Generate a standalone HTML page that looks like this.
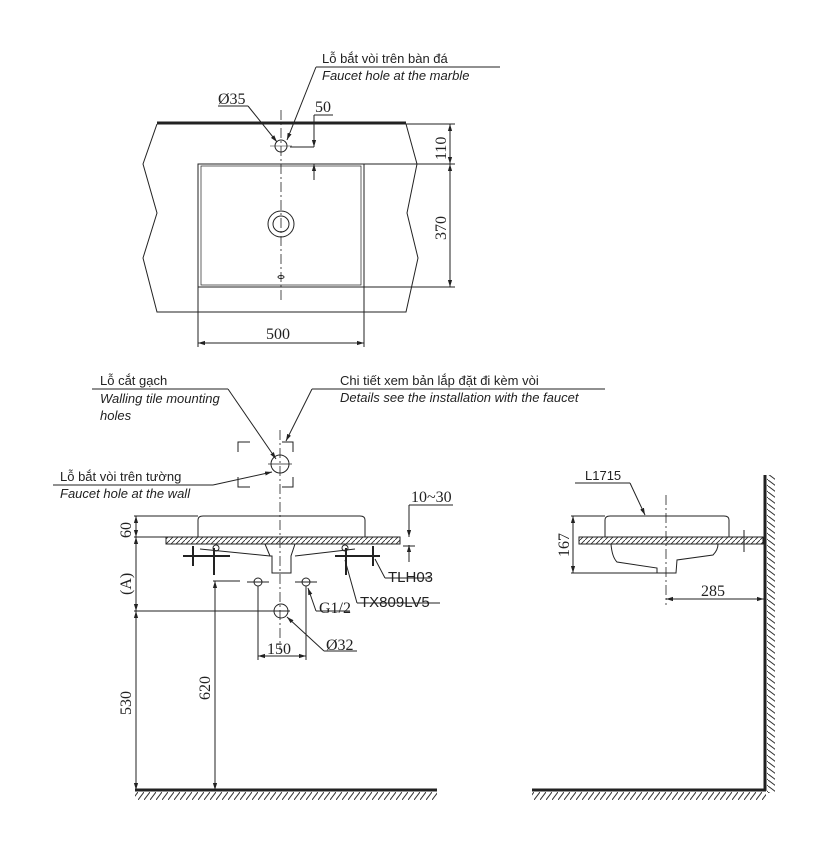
<!DOCTYPE html>
<html><head><meta charset="utf-8"><style>
html,body{margin:0;padding:0;background:#fff}
svg{display:block}
text{font-family:"Liberation Sans",sans-serif;fill:#222}
.s{font-family:"Liberation Serif",serif}
.i{font-style:italic}
</style></head><body>
<svg width="821" height="867" viewBox="0 0 821 867" xmlns="http://www.w3.org/2000/svg">
<defs>
<marker id="a" viewBox="0 0 10 10" refX="10" refY="5" markerWidth="7" markerHeight="7" orient="auto-start-reverse"><path d="M0,2 L10,5 L0,8z" fill="#222"/></marker>
<pattern id="h" width="5" height="5" patternUnits="userSpaceOnUse"><path d="M0,5 L5,0" stroke="#222" stroke-width="0.8"/></pattern>
<pattern id="f" width="6" height="8" patternUnits="userSpaceOnUse"><path d="M0,8 L6,0" stroke="#333" stroke-width="1"/></pattern>
<pattern id="w" width="8" height="6" patternUnits="userSpaceOnUse"><path d="M0,0 L8,6" stroke="#333" stroke-width="1"/></pattern>
</defs>
<g fill="none" stroke="#222" stroke-width="1">
<line x1="157" y1="123" x2="406" y2="123" stroke-width="3"/>
<polyline points="157,124 143,164 157,213 143,258 157,312 406,312 418,258 407,213 417,164 406,124"/>
<rect x="198" y="164" width="166" height="123"/>
<rect x="201" y="166" width="160" height="119" stroke-width="0.7"/>
<line x1="281" y1="110" x2="281" y2="300" stroke-dasharray="10,3,2,3" stroke-width="0.8"/>
<circle cx="281" cy="146" r="6"/>
<line x1="270" y1="146" x2="292" y2="146" stroke-width="0.6"/>
<circle cx="281" cy="224" r="13"/><circle cx="281" cy="224" r="8"/>
<ellipse cx="281" cy="277" rx="3" ry="1.5"/>
<line x1="290" y1="147" x2="314" y2="147"/>
<line x1="314" y1="115" x2="333" y2="115"/>
<line x1="314" y1="115" x2="314" y2="147" marker-end="url(#a)"/>
<line x1="314" y1="180" x2="314" y2="164" marker-end="url(#a)"/>
<line x1="300" y1="164" x2="455" y2="164"/>
<line x1="406" y1="124" x2="455" y2="124"/>
<line x1="364" y1="287" x2="455" y2="287"/>
<line x1="450" y1="124" x2="450" y2="164" marker-start="url(#a)" marker-end="url(#a)"/>
<line x1="450" y1="164" x2="450" y2="287" marker-start="url(#a)" marker-end="url(#a)"/>
<line x1="198" y1="287" x2="198" y2="347"/>
<line x1="364" y1="287" x2="364" y2="347"/>
<line x1="198" y1="343" x2="364" y2="343" marker-start="url(#a)" marker-end="url(#a)"/>
<line x1="218" y1="106" x2="248" y2="106"/>
<line x1="248" y1="106" x2="277" y2="142" marker-end="url(#a)"/>
<line x1="316" y1="67" x2="500" y2="67"/>
<line x1="316" y1="67" x2="287" y2="140" marker-end="url(#a)"/>
<line x1="92" y1="389" x2="228" y2="389"/>
<line x1="228" y1="389" x2="276" y2="459" marker-end="url(#a)"/>
<line x1="312" y1="389" x2="605" y2="389"/>
<line x1="312" y1="389" x2="286" y2="441" marker-end="url(#a)"/>
<line x1="53" y1="485" x2="213" y2="485"/>
<line x1="213" y1="485" x2="272" y2="472" marker-end="url(#a)"/>
<polyline points="238,452 238,442 250,442"/>
<polyline points="282,442 293,442 293,452"/>
<polyline points="238,477 238,487 250,487"/>
<polyline points="282,487 293,487 293,477"/>
<circle cx="280" cy="464" r="9"/>
<line x1="268" y1="464" x2="292" y2="464" stroke-width="0.7"/>
<line x1="280" y1="430" x2="280" y2="650" stroke-dasharray="10,3,2,3" stroke-width="0.8"/>
<path d="M198,537 L198,520 Q198,516 203,516 L360,516 Q365,516 365,520 L365,537"/>
<rect x="166" y="537" width="234" height="7" fill="url(#h)"/>
<path d="M265,544 L270,556 L272,556 L272,573 L291,573 L291,556 L295,544"/>
<path d="M270,556 L200,549 M295,556 L355,549"/>
<line x1="183" y1="556" x2="230" y2="556" stroke-width="2"/>
<line x1="335" y1="556" x2="380" y2="556" stroke-width="2"/>
<line x1="193" y1="546" x2="193" y2="566" stroke-width="2"/>
<line x1="373" y1="546" x2="373" y2="566" stroke-width="2"/>
<path d="M214,548 L214,575 M346,548 L346,575" stroke-width="2"/>
<circle cx="216" cy="548" r="3"/><circle cx="345" cy="548" r="3"/>
<line x1="375" y1="559" x2="385" y2="578"/>
<line x1="385" y1="578" x2="430" y2="578"/>
<line x1="345" y1="560" x2="357" y2="603"/>
<line x1="357" y1="603" x2="440" y2="603"/>
<line x1="134" y1="516" x2="198" y2="516"/>
<line x1="134" y1="537" x2="166" y2="537"/>
<line x1="136" y1="516" x2="136" y2="537" marker-start="url(#a)" marker-end="url(#a)"/>
<line x1="136" y1="537" x2="136" y2="611" marker-start="url(#a)" marker-end="url(#a)"/>
<line x1="136" y1="611" x2="136" y2="790" marker-start="url(#a)" marker-end="url(#a)"/>
<line x1="134" y1="611" x2="290" y2="611"/>
<line x1="215" y1="581" x2="215" y2="790" marker-start="url(#a)" marker-end="url(#a)"/>
<line x1="213" y1="581" x2="240" y2="581"/>
<line x1="247" y1="582" x2="269" y2="582"/><line x1="295" y1="582" x2="317" y2="582"/>
<circle cx="258" cy="582" r="4"/><circle cx="306" cy="582" r="4"/>
<line x1="258" y1="586" x2="258" y2="660"/><line x1="306" y1="586" x2="306" y2="660"/>
<line x1="258" y1="656" x2="306" y2="656" marker-start="url(#a)" marker-end="url(#a)"/>
<circle cx="281" cy="611" r="7"/>
<line x1="316" y1="611" x2="308" y2="588" marker-end="url(#a)"/>
<line x1="316" y1="611" x2="350" y2="611"/>
<line x1="324" y1="651" x2="287" y2="617" marker-end="url(#a)"/>
<line x1="324" y1="651" x2="357" y2="651"/>
<line x1="409" y1="505" x2="453" y2="505"/>
<line x1="409" y1="505" x2="409" y2="537" marker-end="url(#a)"/>
<line x1="409" y1="562" x2="409" y2="545" marker-end="url(#a)"/>
<line x1="403" y1="546" x2="415" y2="546"/>
<line x1="135" y1="790" x2="437" y2="790" stroke-width="3"/>
<rect x="135" y="792" width="302" height="8" fill="url(#f)" stroke="none"/>
<path d="M605,537 L605,520 Q605,516 610,516 L724,516 Q729,516 729,520 L729,537"/>
<rect x="579" y="537" width="184" height="7" fill="url(#h)"/>
<path d="M611,544 Q612,557 617,562 L657,568 L657,573 L676,573 L677,560 L713,555 Q718,550 718,544"/>
<line x1="666" y1="495" x2="666" y2="605" stroke-dasharray="10,3,2,3" stroke-width="0.8"/>
<line x1="744" y1="530" x2="744" y2="552"/>
<line x1="571" y1="516" x2="605" y2="516"/>
<line x1="571" y1="573" x2="657" y2="573"/>
<line x1="573" y1="516" x2="573" y2="573" marker-start="url(#a)" marker-end="url(#a)"/>
<line x1="666" y1="599" x2="764" y2="599" marker-start="url(#a)" marker-end="url(#a)"/>
<line x1="575" y1="483" x2="630" y2="483"/>
<line x1="630" y1="483" x2="645" y2="515" marker-end="url(#a)"/>
<line x1="765" y1="475" x2="765" y2="791" stroke-width="3"/>
<rect x="767" y="475" width="8" height="318" fill="url(#w)" stroke="none"/>
<line x1="532" y1="790" x2="766" y2="790" stroke-width="3"/>
<rect x="532" y="792" width="234" height="8" fill="url(#f)" stroke="none"/>
</g>
<g font-size="13">
<text x="322" y="63">Lỗ bắt vòi trên bàn đá</text>
<text x="322" y="80" class="i">Faucet hole at the marble</text>
<text x="100" y="385">Lỗ cắt gạch</text>
<text x="100" y="403" class="i">Walling tile mounting</text>
<text x="100" y="420" class="i">holes</text>
<text x="340" y="385">Chi tiết xem bản lắp đặt đi kèm vòi</text>
<text x="340" y="402" class="i">Details see the installation with the faucet</text>
<text x="60" y="481">Lỗ bắt vòi trên tường</text>
<text x="60" y="498" class="i">Faucet hole at the wall</text>
<text x="585" y="480">L1715</text>
</g>
<g font-size="15">
<text x="388" y="582">TLH03</text>
<text x="360" y="607">TX809LV5</text>
</g>
<g class="s" font-size="16">
<text x="218" y="104" class="s">Ø35</text>
<text x="315" y="112" class="s">50</text>
<text x="266" y="339" class="s">500</text>
<text x="446" y="160" class="s" transform="rotate(-90 446 160)">110</text>
<text x="446" y="240" class="s" transform="rotate(-90 446 240)">370</text>
<text x="411" y="502" class="s">10~30</text>
<text x="131" y="538" class="s" transform="rotate(-90 131 538)">60</text>
<text x="131" y="595" class="s" transform="rotate(-90 131 595)">(A)</text>
<text x="131" y="715" class="s" transform="rotate(-90 131 715)">530</text>
<text x="210" y="700" class="s" transform="rotate(-90 210 700)">620</text>
<text x="319" y="613" class="s">G1/2</text>
<text x="326" y="650" class="s">Ø32</text>
<text x="267" y="654" class="s">150</text>
<text x="569" y="557" class="s" transform="rotate(-90 569 557)">167</text>
<text x="701" y="596" class="s">285</text>
</g>
</svg>
</body></html>
